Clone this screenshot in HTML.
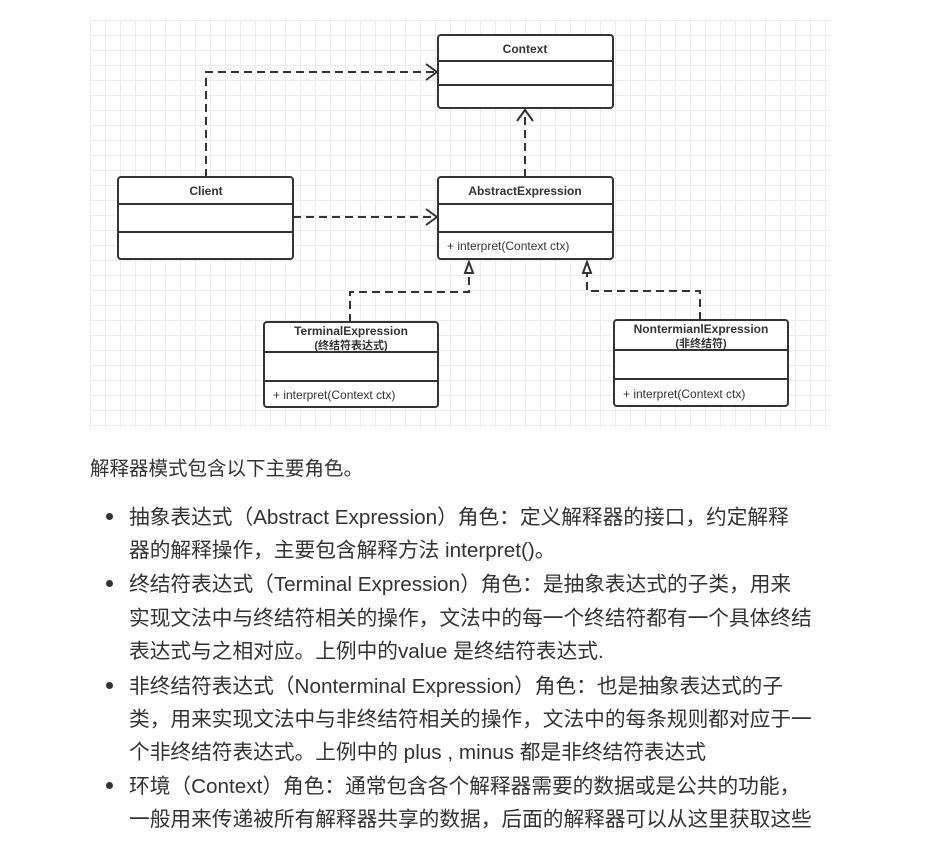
<!DOCTYPE html>
<html><head><meta charset="utf-8"><style>
body{margin:0;background:#fff;width:930px;height:855px;overflow:hidden;font-family:"Liberation Sans","Noto Sans CJK SC",sans-serif;color:#333}
.grid{position:absolute;left:90px;top:20px;width:740px;height:408px;
background-image:linear-gradient(#ececec 1px,transparent 1px),linear-gradient(90deg,#ececec 1px,transparent 1px);background-size:15px 15px;}
svg{position:absolute;left:0;top:0}
.t{position:absolute;white-space:nowrap;font-size:20.7px;color:#333}
.dot{position:absolute;width:7px;height:7px;border-radius:50%;background:#333}
</style></head><body>
<div class="grid"></div>
<svg width="930" height="440" font-family="Liberation Sans, Noto Sans CJK SC, sans-serif">
<g fill="#fff" stroke="#333" stroke-width="2">
<rect x="438" y="35" width="175" height="73" rx="3"/>
<rect x="118" y="177" width="175" height="82" rx="3"/>
<rect x="438" y="177" width="175" height="82" rx="3"/>
<rect x="264" y="322" width="174" height="85" rx="3"/>
<rect x="614" y="320" width="174" height="86" rx="3"/>
<path d="M438 61H613M438 85H613M118 204H293M118 232H293M438 204H613M438 232H613M264 352H438M264 381H438M614 350H788M614 379H788" fill="none"/>
</g>
<g fill="none" stroke="#333" stroke-width="2" stroke-dasharray="8,5">
<path d="M206 177V72H436"/>
<path d="M293 217H436"/>
<path d="M525 177V110"/>
<path d="M350 322V292H469V272"/>
<path d="M700 320V291H587V272"/>
</g>
<g fill="none" stroke="#333" stroke-width="2">
<path d="M426 64L437 72L426 80"/>
<path d="M426 209L437 217L426 225"/>
<path d="M517 121L525 110L533 121"/>
</g>
<g fill="#fff" stroke="#333" stroke-width="2">
<path d="M469 262L465 273H473Z"/>
<path d="M587 262L583 273H591Z"/>
</g>
<g font-size="12" font-weight="bold" fill="#333" text-anchor="middle">
<text x="525" y="53">Context</text>
<text x="206" y="195">Client</text>
<text x="525" y="195">AbstractExpression</text>
<text x="351" y="335">TerminalExpression</text>
<text x="351" y="349" font-size="11">(终结符表达式)</text>
<text x="701" y="333">NontermianlExpression</text>
<text x="701" y="347" font-size="11">(非终结符)</text>
</g>
<g font-size="12" fill="#333">
<text x="447" y="250">+ interpret(Context ctx)</text>
<text x="273" y="399">+ interpret(Context ctx)</text>
<text x="623" y="398">+ interpret(Context ctx)</text>
</g>
</svg>
<div class="t" style="left:90px;top:452px;font-size:19.5px">解释器模式包含以下主要角色。</div>
<div class="dot" style="left:106px;top:513px"></div>
<div class="dot" style="left:106px;top:580px"></div>
<div class="dot" style="left:106px;top:682px"></div>
<div class="dot" style="left:106px;top:782px"></div>
<div class="t" style="left:129px;top:500px">抽象表达式（Abstract Expression）角色：定义解释器的接口，约定解释</div>
<div class="t" style="left:129px;top:533px">器的解释操作，主要包含解释方法 interpret()。</div>
<div class="t" style="left:129px;top:567px">终结符表达式（Terminal Expression）角色：是抽象表达式的子类，用来</div>
<div class="t" style="left:129px;top:601px">实现文法中与终结符相关的操作，文法中的每一个终结符都有一个具体终结</div>
<div class="t" style="left:129px;top:634px">表达式与之相对应。上例中的value 是终结符表达式.</div>
<div class="t" style="left:129px;top:669px">非终结符表达式（Nonterminal Expression）角色：也是抽象表达式的子</div>
<div class="t" style="left:129px;top:702px">类，用来实现文法中与非终结符相关的操作，文法中的每条规则都对应于一</div>
<div class="t" style="left:129px;top:735px">个非终结符表达式。上例中的 plus , minus 都是非终结符表达式</div>
<div class="t" style="left:129px;top:769px">环境（Context）角色：通常包含各个解释器需要的数据或是公共的功能，</div>
<div class="t" style="left:129px;top:802px">一般用来传递被所有解释器共享的数据，后面的解释器可以从这里获取这些</div>
</body></html>
